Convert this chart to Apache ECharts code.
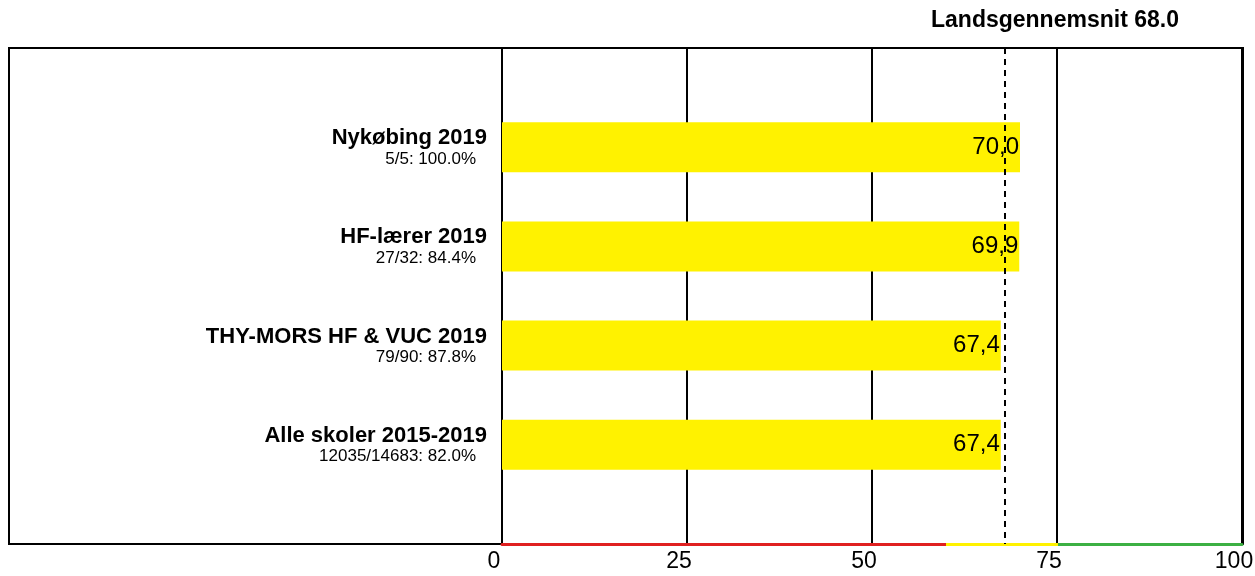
<!DOCTYPE html>
<html>
<head>
<meta charset="utf-8">
<script src="https://cdn.jsdelivr.net/npm/echarts@6/dist/echarts.min.js"></script>
<style>
html, body { margin: 0; padding: 0; background: #fff; }
#chart { width: 1255px; height: 576px; }
</style>
</head>
<body>
<div id="chart"></div>
<script>
var categories = ['Nykøbing 2019', 'HF-lærer 2019', 'THY-MORS HF & VUC 2019', 'Alle skoler 2015-2019'];
var subLabels = ['5/5: 100.0%', '27/32: 84.4%', '79/90: 87.8%', '12035/14683: 82.0%'];
var values = [70.0, 69.9, 67.4, 67.4];
var average = 68.0;
var xTicks = [0, 25, 50, 75, 100];
var bandStops = [60, 75];   // rød / gul / grøn på aksen

var chart = echarts.init(document.getElementById('chart'), null, { renderer: 'canvas' });

// tom kategori i hver ende, så søjlerne står som i originalen
var yData = [''].concat(categories).concat(['']);
var barData = [null].concat(values).concat([null]);
var subMap = {};
categories.forEach(function (c, i) { subMap[c] = subLabels[i]; });

var axisGradient = new echarts.graphic.LinearGradient(0, 0, 1, 0, [
    { offset: 0, color: '#e02020' },
    { offset: bandStops[0] / 100, color: '#e02020' },
    { offset: bandStops[0] / 100, color: '#fff200' },
    { offset: bandStops[1] / 100, color: '#fff200' },
    { offset: bandStops[1] / 100, color: '#3cb043' },
    { offset: 1, color: '#3cb043' }
]);

chart.setOption({
    animation: false,
    textStyle: { fontFamily: 'Liberation Sans, Arial, sans-serif' },
    title: {
        text: 'Landsgennemsnit ' + average.toFixed(1),
        left: 931,
        top: 9,
        padding: 0,
        textStyle: { fontSize: 23, fontWeight: 'bold', color: '#000' }
    },
    grid: [
        { left: 9, right: 12, top: 48, bottom: 32, show: true, borderColor: '#000', borderWidth: 2,
          containLabel: false, outerBoundsMode: 'none' },
        { left: 502, right: 13, top: 48, bottom: 32, containLabel: false, outerBoundsMode: 'none' }
    ],
    xAxis: [
        { gridIndex: 0, show: false, min: 0, max: 1 },
        {
            gridIndex: 1,
            type: 'value',
            min: 0, max: 100, interval: 25,
            axisLine: { show: true, lineStyle: { color: axisGradient, width: 3 } },
            axisTick: { show: false },
            splitLine: { show: true, lineStyle: { color: '#000', width: 2 } },
            axisLabel: { color: '#000', fontSize: 23, margin: 6, padding: [0, 16, 0, 0],
                formatter: function (v) { return xTicks.indexOf(v) >= 0 ? String(v) : ''; } }
        }
    ],
    yAxis: [
        { gridIndex: 0, show: false, min: 0, max: 1 },
        {
            gridIndex: 1,
            type: 'category',
            data: yData,
            inverse: true,
            boundaryGap: false,
            axisLine: { show: true, lineStyle: { color: '#000', width: 2 } },
            axisTick: { show: false },
            splitLine: { show: false },
            axisLabel: {
                margin: 15,
                align: 'right',
                formatter: function (v) {
                    if (!v) return '';
                    return '{a|' + v + '}\n{b|' + subMap[v] + '}';
                },
                rich: {
                    a: { fontSize: 22, fontWeight: 'bold', color: '#000', lineHeight: 24, align: 'right', padding: [2, 0, 0, 0] },
                    b: { fontSize: 17, color: '#000', lineHeight: 20, align: 'right', padding: [0, 11, 0, 0] }
                }
            }
        }
    ],
    series: [{
        type: 'bar',
        xAxisIndex: 1,
        yAxisIndex: 1,
        data: barData,
        barWidth: 50,
        itemStyle: { color: '#fff200' },
        label: {
            show: true,
            position: 'insideRight',
            distance: 1,
            color: '#000',
            fontSize: 24,
            formatter: function (p) { return p.value.toFixed(1).replace('.', ','); }
        },
        markLine: {
            silent: true,
            symbol: 'none',
            label: { show: false },
            lineStyle: { color: '#000', type: [6, 5], width: 2 },
            data: [{ xAxis: average }]
        }
    }]
});
</script>
</body>
</html>
